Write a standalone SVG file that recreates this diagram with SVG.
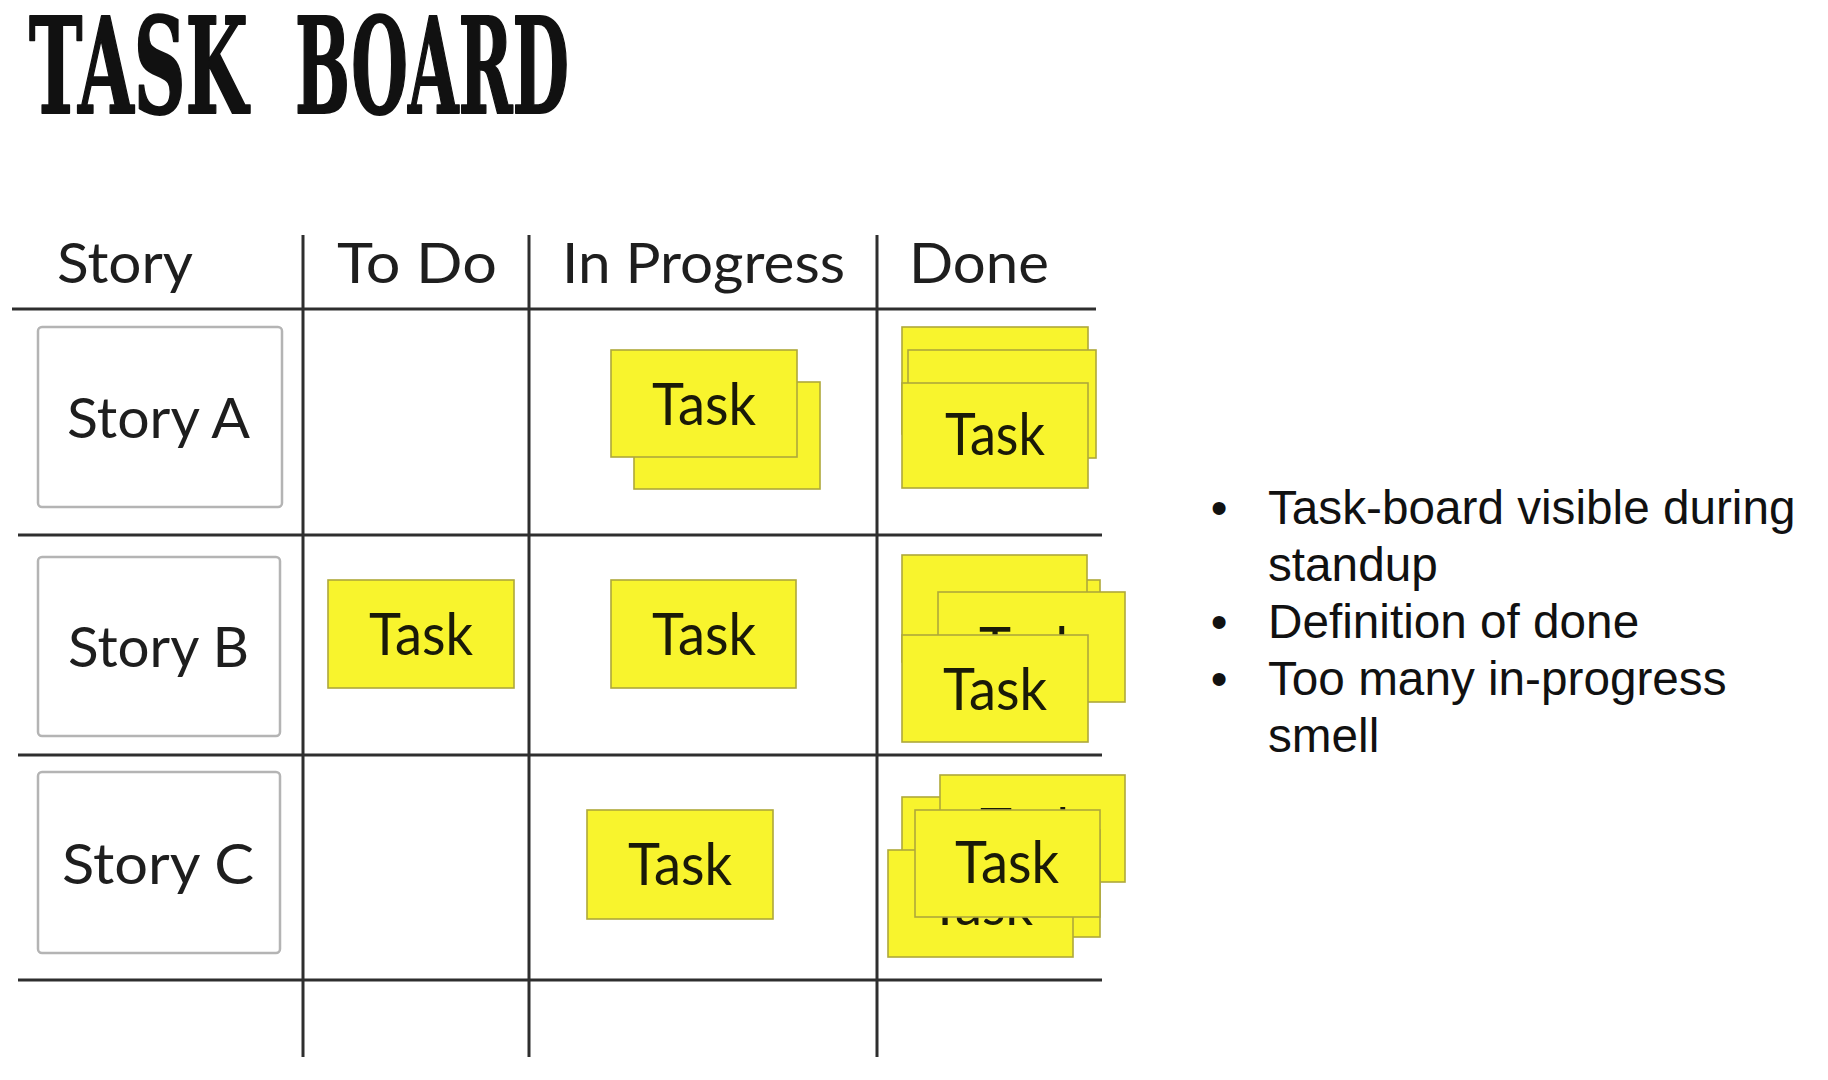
<svg xmlns="http://www.w3.org/2000/svg" width="1828" height="1080" viewBox="0 0 1828 1080">
<style>
.gl{stroke:#2e2e2e;stroke-width:3;stroke-linecap:butt}
.story rect{fill:#fff;stroke:#b4b4b4;stroke-width:2.5}
.task rect{fill:#f8f42d;stroke:#aea83a;stroke-width:1.6}
.hd{font-family:Lato,"Gill Sans","Liberation Sans",sans-serif;font-size:57px;fill:#1e1e1e}
.tk{font-family:Lato,"Gill Sans","Liberation Sans",sans-serif;font-size:58px;fill:#1a1a08;text-anchor:middle}
.bl{font-family:"Liberation Sans",Arial,sans-serif;font-size:47.7px;fill:#111}
.title{font-family:"DejaVu Serif Condensed","DejaVu Serif",serif;font-weight:bold;font-size:132px;fill:#111;stroke:#111;stroke-width:2;stroke-linejoin:round}
</style>
<rect width="1828" height="1080" fill="#fff"/>
<text class="title" y="113"><tspan x="29" textLength="219" lengthAdjust="spacingAndGlyphs">TASK</tspan> <tspan x="295" textLength="274" lengthAdjust="spacingAndGlyphs">BOARD</tspan></text>

<g id="grid">
<line class="gl" x1="303" y1="235" x2="303" y2="1057"/>
<line class="gl" x1="529" y1="235" x2="529" y2="1057"/>
<line class="gl" x1="877" y1="235" x2="877" y2="1057"/>
<line class="gl" x1="12" y1="309" x2="1096" y2="309"/>
<line class="gl" x1="18" y1="535" x2="1102" y2="535"/>
<line class="gl" x1="18" y1="755" x2="1102" y2="755"/>
<line class="gl" x1="18" y1="980" x2="1102" y2="980"/>
</g>

<g id="headers">
<text class="hd" x="57" y="283" textLength="136" lengthAdjust="spacingAndGlyphs">Story</text>
<text class="hd" x="337" y="283" textLength="160" lengthAdjust="spacingAndGlyphs">To Do</text>
<text class="hd" x="562" y="283" textLength="283" lengthAdjust="spacingAndGlyphs">In Progress</text>
<text class="hd" x="909" y="283" textLength="140" lengthAdjust="spacingAndGlyphs">Done</text>
</g>

<g id="story-a" class="story"><rect x="38" y="327" width="244" height="180" rx="4"/><text class="hd" x="67" y="438" textLength="183" lengthAdjust="spacingAndGlyphs">Story A</text></g>
<g id="story-b" class="story"><rect x="38" y="557" width="242" height="179" rx="4"/><text class="hd" x="68" y="667" textLength="181" lengthAdjust="spacingAndGlyphs">Story B</text></g>
<g id="story-c" class="story"><rect x="38" y="772" width="242" height="181" rx="4"/><text class="hd" x="62" y="884" textLength="192" lengthAdjust="spacingAndGlyphs">Story C</text></g>

<g id="ip-a" class="task">
<rect x="634" y="382" width="186" height="107"/>
<rect x="611" y="350" width="186" height="107"/>
<text class="tk" x="704" y="425" textLength="104" lengthAdjust="spacingAndGlyphs">Task</text>
</g>
<g id="done-a" class="task">
<rect x="902" y="327" width="186" height="107"/>
<rect x="908" y="350" width="188" height="108"/>
<rect x="902" y="383" width="186" height="105"/>
<text class="tk" x="995" y="455" textLength="100" lengthAdjust="spacingAndGlyphs">Task</text>
</g>
<g id="todo-b" class="task">
<rect x="328" y="580" width="186" height="108"/>
<text class="tk" x="421" y="655" textLength="104" lengthAdjust="spacingAndGlyphs">Task</text>
</g>
<g id="ip-b" class="task">
<rect x="611" y="580" width="185" height="108"/>
<text class="tk" x="704" y="655" textLength="104" lengthAdjust="spacingAndGlyphs">Task</text>
</g>
<g id="done-b" class="task">
<rect x="914" y="580" width="186" height="107"/>
<rect x="902" y="555" width="185" height="107"/>
<rect x="938" y="592" width="187" height="110"/>
<text class="tk" x="1031" y="669" textLength="104" lengthAdjust="spacingAndGlyphs">Task</text>
<rect x="902" y="635" width="186" height="107"/>
<text class="tk" x="995" y="710" textLength="104" lengthAdjust="spacingAndGlyphs">Task</text>
</g>
<g id="ip-c" class="task">
<rect x="587" y="810" width="186" height="109"/>
<text class="tk" x="680" y="885" textLength="104" lengthAdjust="spacingAndGlyphs">Task</text>
</g>
<g id="done-c" class="task">
<rect x="902" y="797" width="186" height="107"/>
<rect x="940" y="775" width="185" height="107"/>
<text class="tk" x="1032" y="850" textLength="104" lengthAdjust="spacingAndGlyphs">Task</text>
<rect x="916" y="830" width="184" height="107"/>
<rect x="888" y="850" width="185" height="107"/>
<text class="tk" x="981" y="925" textLength="104" lengthAdjust="spacingAndGlyphs">Task</text>
<rect x="915" y="810" width="185" height="107"/>
<text class="tk" x="1007" y="883" textLength="104" lengthAdjust="spacingAndGlyphs">Task</text>
</g>

<g id="notes">
<text class="bl" x="1219" y="524" text-anchor="middle">•</text>
<text class="bl" x="1268" y="524">Task-board visible during</text>
<text class="bl" x="1268" y="581">standup</text>
<text class="bl" x="1219" y="638" text-anchor="middle">•</text>
<text class="bl" x="1268" y="638">Definition of done</text>
<text class="bl" x="1219" y="695" text-anchor="middle">•</text>
<text class="bl" x="1268" y="695">Too many in-progress</text>
<text class="bl" x="1268" y="752">smell</text>
</g>
</svg>
